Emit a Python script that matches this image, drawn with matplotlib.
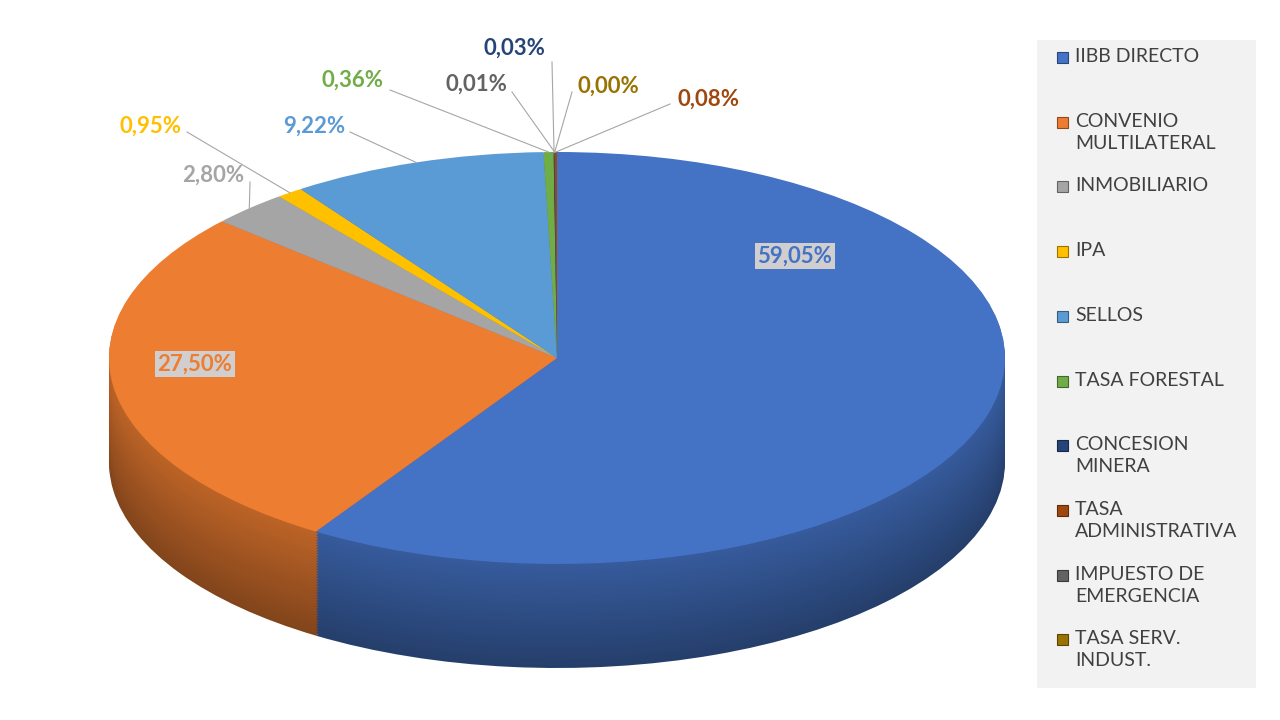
import matplotlib.pyplot as plt
import matplotlib.colors as mcolors
import numpy as np
from matplotlib.patches import Rectangle

plt.rcParams['font.family'] = ['Lato', 'DejaVu Sans']

categories = ["IIBB DIRECTO", "CONVENIO\nMULTILATERAL", "INMOBILIARIO", "IPA", "SELLOS",
              "TASA FORESTAL", "CONCESION\nMINERA", "TASA\nADMINISTRATIVA",
              "IMPUESTO DE\nEMERGENCIA", "TASA SERV.\nINDUST."]
values = [59.05, 27.50, 2.80, 0.95, 9.22, 0.36, 0.03, 0.08, 0.01, 0.00]
pie_order = [0, 1, 2, 3, 4, 5, 6, 8, 9, 7]  # clockwise from top
labels_txt = ["59,05%", "27,50%", "2,80%", "0,95%", "9,22%", "0,36%", "0,03%", "0,08%", "0,01%", "0,00%"]
colors = ["#4472C4", "#ED7D31", "#A5A5A5", "#FFC000", "#5B9BD5",
          "#70AD47", "#264478", "#9E480E", "#636363", "#997300"]

# pixel geometry of the ellipse
CX, CY, RX, RY, DEPTH = 557, 358, 448, 206, 104

fig = plt.figure(figsize=(12.8, 7.2), dpi=100)
ax = fig.add_axes([0, 0, 1, 1])

vals = [max(values[i], 1e-4) for i in pie_order]
cols = [colors[i] for i in pie_order]

def dark(c, f):
    r, g, b = mcolors.to_rgb(c)
    return (r * f, g * f, b * f)

# side wall: stacked darker pies
for k, d in enumerate(np.linspace(DEPTH / RY, 0.005, 40)):
    f = 0.55 + 0.25 * k / 40
    ax.pie(vals, colors=[dark(c, f) for c in cols], startangle=90, counterclock=False,
           center=(0, -d), radius=1, frame=True)
wedges, _ = ax.pie(vals, colors=cols, startangle=90, counterclock=False,
                   center=(0, 0), radius=1, frame=True)
ax.set_xlim(-CX / RX, (1280 - CX) / RX)
ax.set_ylim(-(720 - CY) / RY, CY / RY)
ax.set_aspect('auto')
ax.axis('off')

def px(x, y):
    return ((x - CX) / RX, (CY - y) / RY)

# big labels with boxes
for idx, (x, y) in [(0, (795, 256)), (1, (195, 364))]:
    ax.text(*px(x, y), labels_txt[idx], color=colors[idx], fontsize=16, fontweight='bold',
            ha='center', va='center',
            bbox=dict(facecolor='#D0CECE', edgecolor='none', pad=2))

# small labels with leader lines
small_pos = {2: (213, 175), 3: (150, 126), 4: (314, 126), 5: (352, 80),
             6: (514, 48), 7: (708, 99), 8: (476, 84), 9: (608, 86)}
line_start = {2: (250, 182), 3: (187, 132), 4: (350, 132), 5: (390, 90),
              6: (552, 62), 7: (670, 104), 8: (512, 92), 9: (572, 92)}
for w, oi in zip(wedges, pie_order):
    if oi not in small_pos:
        continue
    th = np.deg2rad((w.theta1 + w.theta2) / 2)
    ex, ey = np.cos(th), np.sin(th)
    ax.plot([px(*line_start[oi])[0], ex], [px(*line_start[oi])[1], ey],
            color='#A6A6A6', lw=0.8)
    ax.text(*px(*small_pos[oi]), labels_txt[oi], color=colors[oi], fontsize=16,
            fontweight='bold', ha='center', va='center')

# legend drawn by hand (markers aligned with first line)
W, H = 1280, 720
fig.patches.append(Rectangle((1037 / W, 1 - 688 / H), 219 / W, 648 / H,
                             transform=fig.transFigure, facecolor='#F2F2F2',
                             edgecolor='none', zorder=0))
for i, (lab, c) in enumerate(zip(categories, colors)):
    y = 58 + i * 64.7
    fig.patches.append(Rectangle((1057 / W, 1 - (y + 5) / H), 11 / W, 11 / H,
                                 transform=fig.transFigure, facecolor=c,
                                 edgecolor=dark(c, 0.6), lw=0.8))
    fig.text(1075 / W, 1 - (y - 10) / H, lab, fontsize=14, color='#404040',
             ha='left', va='top', linespacing=1.35)

fig.savefig("out.png", dpi=100)
